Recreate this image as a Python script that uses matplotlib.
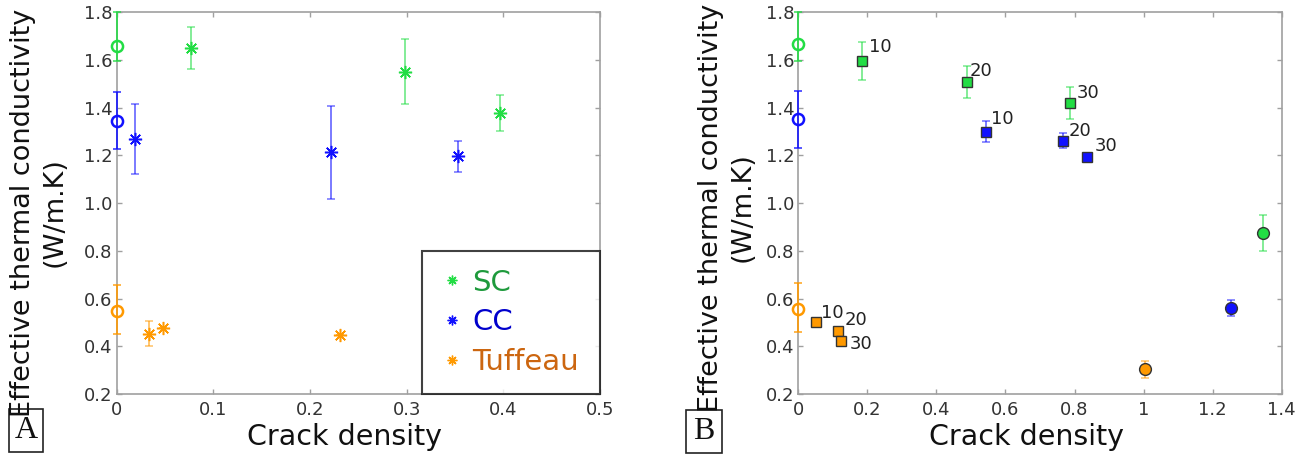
import matplotlib
matplotlib.use("Agg")
import matplotlib.pyplot as plt
from matplotlib.lines import Line2D
from matplotlib.patches import Rectangle

# ---------------- data ----------------
# Panel A
sc_x_A = [0.077, 0.298, 0.397]
sc_y_A = [1.650, 1.551, 1.379]
sc_err_A = [0.087, 0.135, 0.075]
cc_x_A = [0.019, 0.222, 0.353]
cc_y_A = [1.269, 1.213, 1.196]
cc_err_A = [0.145, 0.195, 0.065]
tu_x_A = [0.033, 0.048, 0.231]
tu_y_A = [0.453, 0.478, 0.446]
tu_err_A = [0.053, 0.0, 0.0]
# intact references (crack density 0): value, lower err, upper err
ref_A = {"SC": (1.658, 0.062, 0.142), "CC": (1.346, 0.118, 0.122), "Tuffeau": (0.549, 0.096, 0.108)}

# Panel B
sc_x_B = [0.185, 0.488, 0.788]
sc_y_B = [1.596, 1.509, 1.419]
sc_err_B = [0.080, 0.067, 0.068]
cc_x_B = [0.543, 0.766, 0.837]
cc_y_B = [1.300, 1.262, 1.194]
cc_err_B = [0.045, 0.032, 0.0]
tu_x_B = [0.051, 0.114, 0.125]
tu_y_B = [0.501, 0.464, 0.421]
tu_err_B = [0.0, 0.0, 0.0]
point_labels = ["10", "20", "30"]
ref_B = {"SC": (1.666, 0.070, 0.134), "CC": (1.353, 0.122, 0.118), "Tuffeau": (0.558, 0.098, 0.108)}
# high crack density points (filled circles)
hi_x_B = {"SC": 1.346, "CC": 1.252, "Tuffeau": 1.003}
hi_y_B = {"SC": 0.876, "CC": 0.560, "Tuffeau": 0.304}
hi_err_B = {"SC": 0.075, "CC": 0.035, "Tuffeau": 0.035}

x_ticks_A = [0, 0.1, 0.2, 0.3, 0.4, 0.5]
x_tick_labels_A = ["0", "0.1", "0.2", "0.3", "0.4", "0.5"]
x_ticks_B = [0, 0.2, 0.4, 0.6, 0.8, 1.0, 1.2, 1.4]
x_tick_labels_B = ["0", "0.2", "0.4", "0.6", "0.8", "1", "1.2", "1.4"]
y_ticks = [0.2, 0.4, 0.6, 0.8, 1.0, 1.2, 1.4, 1.6, 1.8]
y_tick_labels = ["0.2", "0.4", "0.6", "0.8", "1.0", "1.2", "1.4", "1.6", "1.8"]

# ---------------- style ----------------
W, H = 1301, 454
mcol = {"SC": "#22dd44", "CC": "#1111ff", "Tuffeau": "#ff9900"}
tcol = {"SC": "#1e9a3c", "CC": "#0000cc", "Tuffeau": "#cc6610"}
ast = (8, 2, 0)
spine_col = "#a0a0a0"
tick_txt = "#333333"

fig = plt.figure(figsize=(W / 100, H / 100), dpi=100)


def px_axes(x0, x1, y0, y1):
    return fig.add_axes([x0 / W, 1 - y1 / H, (x1 - x0) / W, (y1 - y0) / H])


def style_axes(ax, xt, xtl, xlim):
    ax.set_xlim(*xlim)
    ax.set_ylim(0.2, 1.8)
    ax.set_xticks(xt)
    ax.set_xticklabels(xtl)
    ax.set_yticks(y_ticks)
    ax.set_yticklabels(y_tick_labels)
    for s in ax.spines.values():
        s.set_color(spine_col)
        s.set_linewidth(1.2)
    ax.tick_params(direction="in", top=True, right=True, length=3.5, width=1,
                   color=spine_col, labelsize=13, labelcolor=tick_txt)
    ax.tick_params(axis="x", pad=5)
    ax.tick_params(axis="y", pad=3)


def eb(ax, x, y, yerr, color, marker, ms, mfc, mec, alpha_err=0.6, mew=1.2, z=3):
    ax.errorbar(x, y, yerr=yerr, fmt="none", ecolor=color, alpha=alpha_err,
                elinewidth=1.3, capsize=3, capthick=1.1, clip_on=False, zorder=z)
    ax.plot(x, y, linestyle="none", marker=marker, ms=ms, mfc=mfc, mec=mec,
            mew=mew, clip_on=False, zorder=z + 1)


# ---------------- Panel A ----------------
axA = px_axes(116.7, 600, 12.3, 394)
style_axes(axA, x_ticks_A, x_tick_labels_A, (0, 0.5))
for key, (xs, ys, es) in {"SC": (sc_x_A, sc_y_A, sc_err_A),
                          "CC": (cc_x_A, cc_y_A, cc_err_A),
                          "Tuffeau": (tu_x_A, tu_y_A, tu_err_A)}.items():
    c = mcol[key]
    eb(axA, xs, ys, es, c, ast, 9.5, c, c, mew=1.1)
    v, lo, hi = ref_A[key]
    eb(axA, [0], [v], [[lo], [hi]], c, "o", 8, "none", c, alpha_err=0.9, mew=1.8)

handles = [Line2D([], [], linestyle="none", marker=ast, ms=7, mew=1.0,
                  color=mcol[k]) for k in ["SC", "CC", "Tuffeau"]]
leg = axA.legend(handles, ["SC", "CC", "Tuffeau"], loc="lower left",
                 bbox_to_anchor=((422 - 116.7) / 483.3, 0, (600 - 422) / 483.3, 0.37),
                 mode="expand", fontsize=21, frameon=True, fancybox=False,
                 handlelength=0.8, handletextpad=0.3, labelspacing=0.4,
                 borderpad=0.62, borderaxespad=0)
leg.get_frame().set_edgecolor("#111111")
leg.get_frame().set_linewidth(1.5)
for t, k in zip(leg.get_texts(), ["SC", "CC", "Tuffeau"]):
    t.set_color(tcol[k])

# ---------------- Panel B ----------------
axB = px_axes(798.3, 1281.7, 12.3, 394)
style_axes(axB, x_ticks_B, x_tick_labels_B, (0, 1.4))
label_offsets = {"SC": [(5, 10), (2, 7.5), (4.6, 7.6)],
                 "CC": [(4, 9.1), (4.3, 7), (5.3, 7.9)],
                 "Tuffeau": [(3.4, 6.5), (4.8, 7.9), (5.8, -1.9)]}
for key, (xs, ys, es) in {"SC": (sc_x_B, sc_y_B, sc_err_B),
                          "CC": (cc_x_B, cc_y_B, cc_err_B),
                          "Tuffeau": (tu_x_B, tu_y_B, tu_err_B)}.items():
    c = mcol[key]
    eb(axB, xs, ys, es, c, "s", 7, c, "#333333", mew=1.0)
    for x, y, lab, off in zip(xs, ys, point_labels, label_offsets[key]):
        axB.annotate(lab, (x, y), xytext=off, textcoords="offset points",
                     ha="left", va="center", fontsize=13, color="#222222", zorder=6)
    v, lo, hi = ref_B[key]
    eb(axB, [0], [v], [[lo], [hi]], c, "o", 8, "none", c, alpha_err=0.9, mew=1.8)
    eb(axB, [hi_x_B[key]], [hi_y_B[key]], [hi_err_B[key]], c, "o", 8.5, c, "#333333", mew=1.0)

# ---------------- labels ----------------
ylab = "Effective thermal conductivity\n(W/m.K)"
for cx, cy in [(39, 212.5), (727, 207.5)]:
    fig.text(cx / W, 1 - cy / H, ylab, rotation=90, ha="center", va="center",
             multialignment="center", fontsize=19.5, linespacing=1.3, color="#111111")
for cx in [344.4, 1026.7]:
    fig.text(cx / W, 1 - 445 / H, "Crack density", ha="center", va="baseline",
             fontsize=20.5, color="#111111")

for (x0, x1, y0, y1, s) in [(9, 43, 409, 452, "A"), (686, 721.7, 410, 453, "B")]:
    fig.patches.append(Rectangle((x0 / W, 1 - y1 / H), (x1 - x0) / W, (y1 - y0) / H,
                                 transform=fig.transFigure, fill=False,
                                 edgecolor="#222222", lw=1.2))
    fig.text((x0 + x1) / 2 / W, 1 - (y0 + y1) / 2 / H, s, ha="center", va="center",
             fontsize=23, family="Liberation Serif", color="#111111")

fig.savefig("out.png", dpi=100)
